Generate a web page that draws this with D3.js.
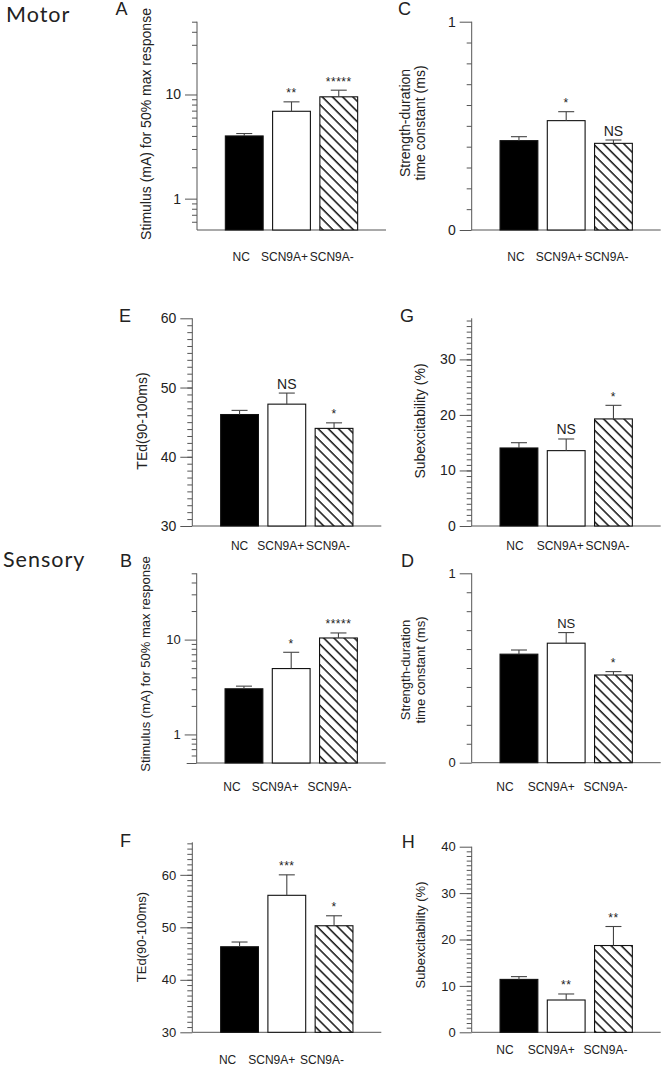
<!DOCTYPE html>
<html>
<head>
<meta charset="utf-8">
<script src="https://cdn.jsdelivr.net/npm/d3@7"></script>
<style>
  html, body { margin: 0; padding: 0; background: #fff; }
  svg { display: block; }
  text { font-family: "Liberation Sans", Arial, sans-serif; fill: #222; }
</style>
</head>
<body>
<svg id="chart" width="664" height="1067"></svg>
<script>
// ---------------- DATA ----------------
const groups = ["NC", "SCN9A+", "SCN9A-"];

// Motor
const motorStimMean = [4.0, 6.9, 9.5];
const motorStimErr  = [0.22, 1.6, 1.5];
const motorStimSig  = ["", "**", "*****"];
const motorSDTCMean = [0.429, 0.525, 0.416];
const motorSDTCErr  = [0.019, 0.043, 0.016];
const motorSDTCSig  = ["", "*", "NS"];
const motorTEdMean  = [46.1, 47.6, 44.1];
const motorTEdErr   = [0.6, 1.6, 0.8];
const motorTEdSig   = ["", "NS", "*"];
const motorSubexMean = [14.05, 13.57, 19.28];
const motorSubexErr  = [0.95, 2.1, 2.45];
const motorSubexSig  = ["", "NS", "*"];

// Sensory
const sensStimMean = [3.03, 4.95, 10.4];
const sensStimErr  = [0.2, 2.4, 1.35];
const sensStimSig  = ["", "*", "*****"];
const sensSDTCMean = [0.573, 0.631, 0.463];
const sensSDTCErr  = [0.022, 0.056, 0.018];
const sensSDTCSig  = ["", "NS", "*"];
const sensTEdMean  = [46.3, 56.1, 50.3];
const sensTEdErr   = [0.9, 3.9, 1.9];
const sensTEdSig   = ["", "***", "*"];
const sensSubexMean = [11.4, 6.96, 18.7];
const sensSubexErr  = [0.6, 1.3, 4.1];
const sensSubexSig  = ["", "**", "**"];

// Tick labels
const stimTicks = [1, 10];
const stimMinor = [0.6, 0.7, 0.8, 0.9, 2, 3, 4, 5, 6, 7, 8, 9, 20, 30, 40, 50];
const sdtcTicks = [0, 1];
const tedTicks = [30, 40, 50, 60];
const subexTicksMotor = [0, 10, 20, 30];
const subexTicksSens = [0, 10, 20, 30, 40];

// ---------------- LAYOUT ----------------
const svg = d3.select("#chart");
const FONT = '"Liberation Sans", Arial, sans-serif';
const AXIS_COLOR = "#555";

// hatch pattern
svg.append("defs").append("pattern")
  .attr("id", "hatch")
  .attr("patternUnits", "userSpaceOnUse")
  .attr("width", 7.2).attr("height", 7.2)
  .attr("patternTransform", "rotate(-45)")
  .call(p => {
    p.append("rect").attr("width", 7.2).attr("height", 7.2).attr("fill", "#fff");
    p.append("line").attr("x1", 1).attr("x2", 1).attr("y1", 0).attr("y2", 7.2)
      .attr("stroke", "#000").attr("stroke-width", 1.4);
  });

const fills = ["#000", "#fff", "url(#hatch)"];

function range(a, b, s) { const r = []; for (let v = a; v <= b + 1e-9; v += s) r.push(+v.toFixed(4)); return r; }

const panels = [
  { id: "A", mean: motorStimMean, err: motorStimErr, sig: motorStimSig, log: true, domain: [0.5, 50],
    ticks: stimTicks, minor: stimMinor, ax: 197, yTop: 21.7, yBot: 230,
    label: ["Stimulus (mA) for 50% max response"], labX: [145.7], labY: 124, fs: 14,
    catY: 261, catDx: [-3, -7, -7], letter: [115.5, 15] },
  { id: "C", mean: motorSDTCMean, err: motorSDTCErr, sig: motorSDTCSig, log: false, domain: [0, 1],
    ticks: sdtcTicks, minor: range(0.1, 0.9, 0.1), ax: 471.7, yTop: 21.7, yBot: 230,
    label: ["Strength-duration", "time constant (ms)"], labX: [405, 420], labY: 123, fs: 14,
    catY: 261, catDx: [-3, -7, -7], letter: [398, 15] },
  { id: "E", mean: motorTEdMean, err: motorTEdErr, sig: motorTEdSig, log: false, domain: [30, 60],
    ticks: tedTicks, minor: range(31, 59, 1), ax: 192.3, yTop: 318.3, yBot: 526,
    label: ["TEd(90-100ms)"], labX: [141.7], labY: 421, fs: 14,
    catY: 549.5, catDx: [0, -6, -6], letter: [119, 322] },
  { id: "G", mean: motorSubexMean, err: motorSubexErr, sig: motorSubexSig, log: false, domain: [0, 37.4],
    ticks: subexTicksMotor, minor: range(1, 37, 1), ax: 471.7, yTop: 318.3, yBot: 526,
    label: ["Subexcitability (%)"], labX: [420], labY: 421, fs: 14,
    catY: 549.5, catDx: [-4, -6, -6], letter: [400, 322] },
  { id: "B", mean: sensStimMean, err: sensStimErr, sig: sensStimSig, log: true, domain: [0.5, 50],
    ticks: stimTicks, minor: stimMinor, extraMajor: [0.5], ax: 196.7, yTop: 573.3, yBot: 763,
    label: ["Stimulus (mA) for 50% max response"], labX: [145.7], labY: 664, fs: 13,
    catY: 791, catDx: [-12, -16, -9], letter: [120, 567] },
  { id: "D", mean: sensSDTCMean, err: sensSDTCErr, sig: sensSDTCSig, log: false, domain: [0, 1],
    ticks: sdtcTicks, minor: range(0.1, 0.9, 0.1), ax: 471.7, yTop: 573.3, yBot: 762.7,
    label: ["Strength-duration", "time constant (ms)"], labX: [405, 420], labY: 670, fs: 13,
    catY: 791, catDx: [-14, -15, -8], letter: [401, 567] },
  { id: "F", mean: sensTEdMean, err: sensTEdErr, sig: sensTEdSig, log: false, domain: [30, 66.2],
    ticks: tedTicks, minor: range(31, 66, 1), ax: 192.3, yTop: 842.3, yBot: 1032.3,
    label: ["TEd(90-100ms)"], labX: [141.7], labY: 937, fs: 13,
    catY: 1063.5, catDx: [-12, -15, -12], letter: [120, 847] },
  { id: "H", mean: sensSubexMean, err: sensSubexErr, sig: sensSubexSig, log: false, domain: [0, 40],
    ticks: subexTicksSens, minor: range(1, 39, 1), ax: 471.7, yTop: 846.7, yBot: 1032.3,
    label: ["Subexcitability (%)"], labX: [420], labY: 935, fs: 13,
    catY: 1053.5, catDx: [-14, -15, -8], letter: [401.7, 848] }
];

panels.forEach(p => {
  const g = svg.append("g");
  const y = (p.log ? d3.scaleLog() : d3.scaleLinear()).domain(p.domain).range([p.yBot, p.yTop]);
  const x = d3.scaleBand().domain(groups).range([p.ax, p.ax + 189]).paddingInner(0.2).paddingOuter(0.6);

  // minor ticks
  const minorAxis = d3.axisLeft(y).tickValues(p.minor).tickSize(5).tickSizeOuter(0).tickFormat("");
  const gm = g.append("g").attr("transform", `translate(${p.ax},0)`).call(minorAxis);
  gm.select(".domain").remove();
  gm.selectAll("line").attr("stroke", AXIS_COLOR);

  // major ticks
  const majorAxis = d3.axisLeft(y).tickValues(p.ticks).tickSize(12).tickSizeOuter(0).tickPadding(4)
    .tickFormat(d3.format("~g"));
  const ga = g.append("g").attr("transform", `translate(${p.ax},0)`).call(majorAxis);
  ga.select(".domain").attr("stroke", AXIS_COLOR).attr("d", `M0,${p.yTop}V${p.yBot}`);
  ga.selectAll("line").attr("stroke", AXIS_COLOR);
  ga.selectAll("text").attr("font-family", FONT).attr("font-size", p.fs).attr("fill", "#222");
  if (p.extraMajor) {
    const ge = g.append("g").attr("transform", `translate(${p.ax},0)`)
      .call(d3.axisLeft(y).tickValues(p.extraMajor).tickSize(10).tickSizeOuter(0).tickFormat(""));
    ge.select(".domain").remove();
    ge.selectAll("line").attr("stroke", AXIS_COLOR);
  }

  // x axis baseline
  g.append("line").attr("x1", p.ax).attr("x2", p.ax + 189).attr("y1", p.yBot).attr("y2", p.yBot)
    .attr("stroke", AXIS_COLOR).attr("stroke-width", 1);

  // bars
  const data = groups.map((k, i) => ({ k, i, m: p.mean[i], e: p.err[i], s: p.sig[i] }));
  g.selectAll("rect.bar").data(data).join("rect").attr("class", "bar")
    .attr("x", d => x(d.k)).attr("width", x.bandwidth())
    .attr("y", d => y(d.m)).attr("height", d => p.yBot - y(d.m))
    .attr("fill", d => fills[d.i]).attr("stroke", "#111").attr("stroke-width", 1.1);

  // error bars
  const cx = d => x(d.k) + x.bandwidth() / 2;
  g.selectAll("line.eb").data(data).join("line").attr("class", "eb")
    .attr("x1", cx).attr("x2", cx).attr("y1", d => y(d.m)).attr("y2", d => y(d.m + d.e))
    .attr("stroke", "#444").attr("stroke-width", 1.1);
  g.selectAll("line.cap").data(data).join("line").attr("class", "cap")
    .attr("x1", d => cx(d) - 8).attr("x2", d => cx(d) + 8)
    .attr("y1", d => y(d.m + d.e)).attr("y2", d => y(d.m + d.e))
    .attr("stroke", "#444").attr("stroke-width", 1.1);

  // significance
  g.selectAll("text.sig").data(data.filter(d => d.s)).join("text").attr("class", "sig")
    .attr("x", cx).attr("y", d => y(d.m + d.e) - 4.5)
    .attr("text-anchor", "middle")
    .attr("font-size", d => d.s === "NS" ? p.fs : 12)
    .attr("letter-spacing", d => d.s === "NS" ? 0 : 0.5)
    .text(d => d.s);

  // category labels
  g.selectAll("text.cat").data(data).join("text").attr("class", "cat")
    .attr("x", d => cx(d) + p.catDx[d.i]).attr("y", p.catY)
    .attr("text-anchor", "middle").attr("font-size", 12)
    .text(d => d.k);

  // y label
  p.label.forEach((t, j) => {
    g.append("text")
      .attr("transform", `translate(${p.labX[j]},${p.labY}) rotate(-90)`)
      .attr("text-anchor", "middle").attr("dy", "0.35em")
      .attr("font-size", p.fs).text(t);
  });

  // panel letter
  g.append("text").attr("x", p.letter[0]).attr("y", p.letter[1])
    .attr("font-size", 18).text(p.id);
});

// Section titles
svg.append("text").attr("x", 6).attr("y", 21.5).attr("font-size", 21.5)
  .attr("letter-spacing", 1)
  .style("font-family", 'Lato, "Open Sans", sans-serif').text("Motor");
svg.append("text").attr("x", 3).attr("y", 567).attr("font-size", 21.5)
  .attr("letter-spacing", 1)
  .style("font-family", 'Lato, "Open Sans", sans-serif').text("Sensory");
</script>
</body>
</html>
